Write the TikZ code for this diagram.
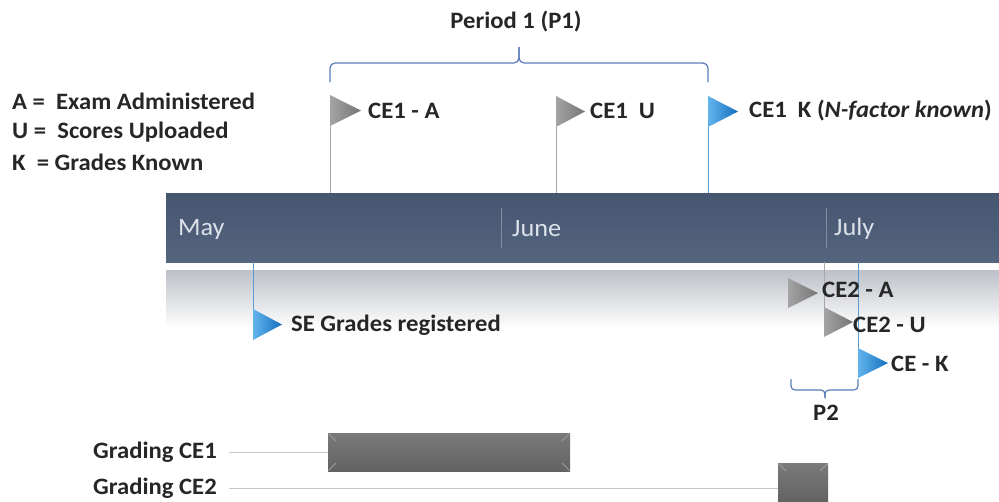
\documentclass[tikz,border=0pt]{standalone}
\usepackage{fontspec}
\setmainfont{Carlito}[FakeStretch=1.05]
\usetikzlibrary{shadings}
\definecolor{barA}{HTML}{465570}
\definecolor{barB}{HTML}{56657E}
\definecolor{bandtop}{HTML}{BCC0C7}
\definecolor{flagblueL}{HTML}{62B4EC}
\definecolor{flagblueR}{HTML}{1470BE}
\definecolor{flaggrayL}{HTML}{A4A4A4}
\definecolor{flaggrayR}{HTML}{747474}
\definecolor{lineblue}{HTML}{5B9BD5}
\definecolor{linegray}{HTML}{A8A8A8}
\definecolor{brc}{HTML}{5A7DB8}
\definecolor{txt}{HTML}{262626}
\definecolor{month}{HTML}{DCE2EA}
\definecolor{sep}{HTML}{8390A4}
\definecolor{gbarT}{HTML}{7A7A7A}
\definecolor{gbarB}{HTML}{626262}
\tikzset{
  lbl/.style={inner sep=0pt, anchor=west, text=txt, font=\fontsize{23.5}{28}\selectfont\bfseries},
  mon/.style={inner sep=0pt, anchor=west, text=month, font=\fontsize{25}{30}\selectfont},
  glbl/.style={inner sep=0pt, anchor=west, text=txt, font=\fontsize{23.5}{28}\selectfont\bfseries},
  grayflag/.style={left color=flaggrayL, right color=flaggrayR},
  blueflag/.style={left color=flagblueL, right color=flagblueR},
  graypole/.style={draw=linegray, line width=1pt},
  bluepole/.style={draw=lineblue, line width=1pt},
  brc/.style={draw=brc, line width=1.2pt, rounded corners=5pt},
  thinline/.style={draw=gray!45, line width=1pt},
}
\begin{document}
\begin{tikzpicture}[x=1pt,y=-1pt]
\useasboundingbox (0,0) rectangle (999,501);

% legend
\node[lbl] (legA) at (12,101) {A =\ \ Exam Administered};
\node[lbl] (legU) at (12,132) {U =\ \ Scores Uploaded};
\node[lbl] (legK) at (12,162) {K\ \ = Grades Known};

% period 1
\node[lbl, anchor=center] (p1) at (516,22) {Period 1 (P1)};
\draw[brc] (330,82) -- (330,63) -- (519,63) -- (519,47);
\draw[brc] (708,82) -- (708,63) -- (519,63) -- (519,47);

% band under bar
\shade[top color=bandtop, bottom color=white] (166,270) rectangle (999,328);

% timeline bar
\shade[top color=barA, bottom color=barB] (166,193) rectangle (999,262);
\draw[sep, line width=0.8pt] (501,208) -- (501,248);
\draw[sep, line width=0.8pt] (826,208) -- (826,248);
\node[mon] (may) at (178,229) {May};
\node[mon] (june) at (512,229) {June};
\node[mon] (july) at (834,229) {July};

% CE1 flags
\coordinate (ceAtop) at (330,95);
\coordinate (ceAbot) at (330,193);
\coordinate (ceUtop) at (556,96);
\coordinate (ceUbot) at (556,193);
\coordinate (ceKtop) at (708,96);
\coordinate (ceKbot) at (708,193);
\draw[graypole] (ceAtop) -- (ceAbot);
\draw[graypole] (ceUtop) -- (ceUbot);
\draw[bluepole] (ceKtop) -- (ceKbot);
\shade[grayflag] (330,95) -- (361,110.5) -- (330,126) -- cycle;
\shade[grayflag] (556,96) -- (585,111.5) -- (556,127) -- cycle;
\shade[blueflag] (708,96) -- (738,111.5) -- (708,127) -- cycle;
\node[lbl] (ceA) at (368,111) {CE1 - A};
\node[lbl] (ceU) at (590,111) {CE1\ \ U};
\node[lbl] (ceK) at (749,111) {CE1\ \ K (\textit{N-factor known})};

% SE grades
\coordinate (seTop) at (253,262);
\coordinate (seBot) at (253,340);
\draw[bluepole] (seTop) -- (seBot);
\shade[blueflag] (253,309) -- (282,324.5) -- (253,340) -- cycle;
\node[lbl] (se) at (291,325) {SE Grades registered};

% CE2 flags
\coordinate (c2Utop) at (824,262);
\coordinate (c2Ubot) at (824,336);
\coordinate (c2Ktop) at (858,262);
\coordinate (c2Kbot) at (858,378);
\draw[graypole] (c2Utop) -- (c2Ubot);
\draw[bluepole] (c2Ktop) -- (c2Kbot);
\shade[grayflag] (788,278) -- (818,293) -- (788,308) -- cycle;
\shade[grayflag] (824,307) -- (853,322) -- (824,337) -- cycle;
\shade[blueflag] (858,348) -- (888,363) -- (858,378) -- cycle;
\node[lbl] (c2A) at (822,290) {CE2 - A};
\node[lbl] (c2U) at (853,325) {CE2 - U};
\node[lbl] (c2K) at (891,364) {CE - K};

% P2 brace
\draw[brc, rounded corners=4pt] (791,379) -- (791,390) -- (825,390) -- (825,398);
\draw[brc, rounded corners=4pt] (858,379) -- (858,390) -- (825,390) -- (825,398);
\node[lbl, anchor=center] (p2) at (826,413) {P2};

% grading
\node[glbl] (g1) at (93,452) {Grading CE1};
\node[glbl] (g2) at (93,488) {Grading CE2};
\coordinate (g1end) at (328,452);
\coordinate (g2end) at (778,488);
\draw[thinline] (g1.east) ++(12,0) coordinate (g1s) -- (g1end);
\draw[thinline] (g2.east) ++(12,0) coordinate (g2s) -- (g2end);
\shade[top color=gbarT, bottom color=gbarB] (328,433) rectangle (570,471);
\draw[white!25!gbarT, line width=0.8pt] (328.5,433.5) -- (336,441) (569.5,433.5) -- (562,441)
  (328.5,470.5) -- (336,463) (569.5,470.5) -- (562,463);
\shade[top color=gbarT, bottom color=gbarB] (778,463) rectangle (828,503);
\draw[white!25!gbarT, line width=0.8pt] (778.5,463.5) -- (786,471) (827.5,463.5) -- (820,471);
\end{tikzpicture}
\end{document}
